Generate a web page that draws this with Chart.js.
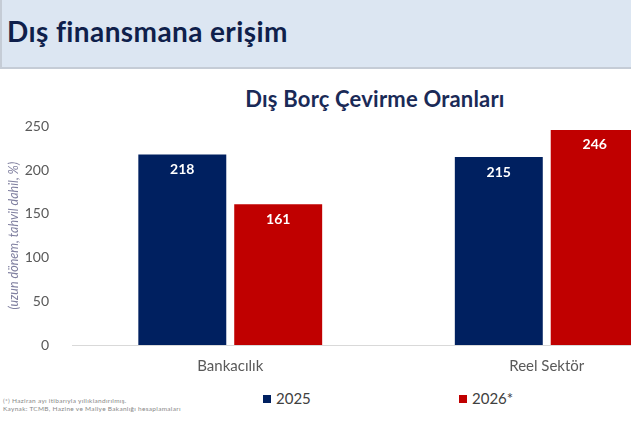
<!DOCTYPE html>
<html>
<head>
<meta charset="utf-8">
<script src="https://cdn.jsdelivr.net/npm/chart.js@4"></script>
<style>
  html, body { margin: 0; padding: 0; width: 631px; height: 421px; overflow: hidden; background: #fff; font-family: Lato, "Open Sans", sans-serif; }
  #header { position: absolute; left: 0; top: 0; width: 631px; height: 67px; background: #dce6f2; border-bottom: 2px solid #c5ccd6; border-left: 2px solid #c5ccd6; box-sizing: content-box; }
  #header h1 { position: absolute; left: 5px; top: 15px; margin: 0; font-size: 28px; line-height: 1.2; letter-spacing: 0.4px; font-weight: 700; color: #0f1f4b; }
  #subtitle { position: absolute; left: 0; width: 750px; top: 86px; text-align: center; font-size: 22px; line-height: 1.2; letter-spacing: 0.2px; font-weight: 700; color: #1a2a57; }
  #wrap { position: absolute; left: 0; top: 103px; width: 710px; height: 276px; }
  #legend { position: absolute; top: 389px; left: 0; width: 631px; height: 20px; }
  .item { position: absolute; top: 0; font-size: 15px; line-height: 18px; color: #404040; }
  .item span.box { display: inline-block; width: 8px; height: 8px; margin-right: 5px; vertical-align: 1px; }
  #note { position: absolute; left: 3px; top: 397px; font-size: 6.5px; line-height: 8px; letter-spacing: 0.3px; color: #888888; white-space: nowrap; }
</style>
</head>
<body>
<div id="header"><h1>Dış finansmana erişim</h1></div>
<div id="subtitle">Dış Borç Çevirme Oranları</div>
<div id="wrap"><canvas id="chart" width="710" height="276"></canvas></div>
<div id="legend"></div>
<div id="note">(*) Haziran ayı itibarıyla yıllıklandırılmış.<br>Kaynak: TCMB, Hazine ve Maliye Bakanlığı hesaplamaları</div>
<script>
// values
const categories = ['Bankacılık', 'Reel Sektör'];
const series2025 = [218, 215];
const series2026 = [161, 246];
const seriesNames = ['2025', '2026*'];
const yTicks = [0, 50, 100, 150, 200, 250];

const colors = ['#002060', '#c00000'];

// white value labels just under the top of each bar
const valueLabels = {
    id: 'valueLabels',
    afterDatasetsDraw(chart) {
        const ctx = chart.ctx;
        ctx.save();
        ctx.fillStyle = '#ffffff';
        ctx.font = 'bold 14px Lato, sans-serif';
        ctx.textAlign = 'center';
        ctx.textBaseline = 'middle';
        chart.data.datasets.forEach((ds, i) => {
            chart.getDatasetMeta(i).data.forEach((bar, j) => {
                ctx.fillText(ds.data[j], bar.x, bar.y + 15);
            });
        });
        ctx.restore();
    }
};

const chart = new Chart(document.getElementById('chart'), {
    type: 'bar',
    data: {
        labels: categories,
        datasets: [
            { label: seriesNames[0], data: series2025, backgroundColor: colors[0] },
            { label: seriesNames[1], data: series2026, backgroundColor: colors[1] }
        ]
    },
    options: {
        responsive: false,
        animation: false,
        devicePixelRatio: 1,
        categoryPercentage: 0.606,
        barPercentage: 0.917,
        layout: { padding: { top: 0, bottom: 0, left: 6, right: 5 } },
        plugins: {
            legend: { display: false },
            tooltip: { enabled: false }
        },
        scales: {
            x: {
                grid: { display: false },
                border: { display: true, color: '#d9d9d9', width: 1 },
                ticks: { color: '#595959', font: { family: 'Lato', size: 15 }, padding: 4 }
            },
            y: {
                min: 0,
                max: 250,
                afterBuildTicks: s => { s.ticks = yTicks.map(v => ({ value: v })); },
                afterFit: s => { s.width = 66; },
                grid: { display: false },
                border: { display: false },
                ticks: { color: '#595959', font: { family: 'Lato', size: 14 }, padding: 15 },
                title: {
                    display: true,
                    text: '(uzun dönem, tahvil dahil, %)',
                    color: '#8080a0',
                    font: { family: 'Lato', size: 12.5, style: 'italic' },
                    padding: { top: 0, bottom: 0 }
                }
            }
        }
    },
    plugins: [valueLabels]
});

// legend built from the series names
const legend = document.getElementById('legend');
const legendX = [263, 459];
seriesNames.forEach((name, i) => {
    const el = document.createElement('div');
    el.className = 'item';
    el.style.left = legendX[i] + 'px';
    el.innerHTML = '<span class="box" style="background:' + colors[i] + '"></span>' + name;
    legend.appendChild(el);
});
</script>
</body>
</html>
